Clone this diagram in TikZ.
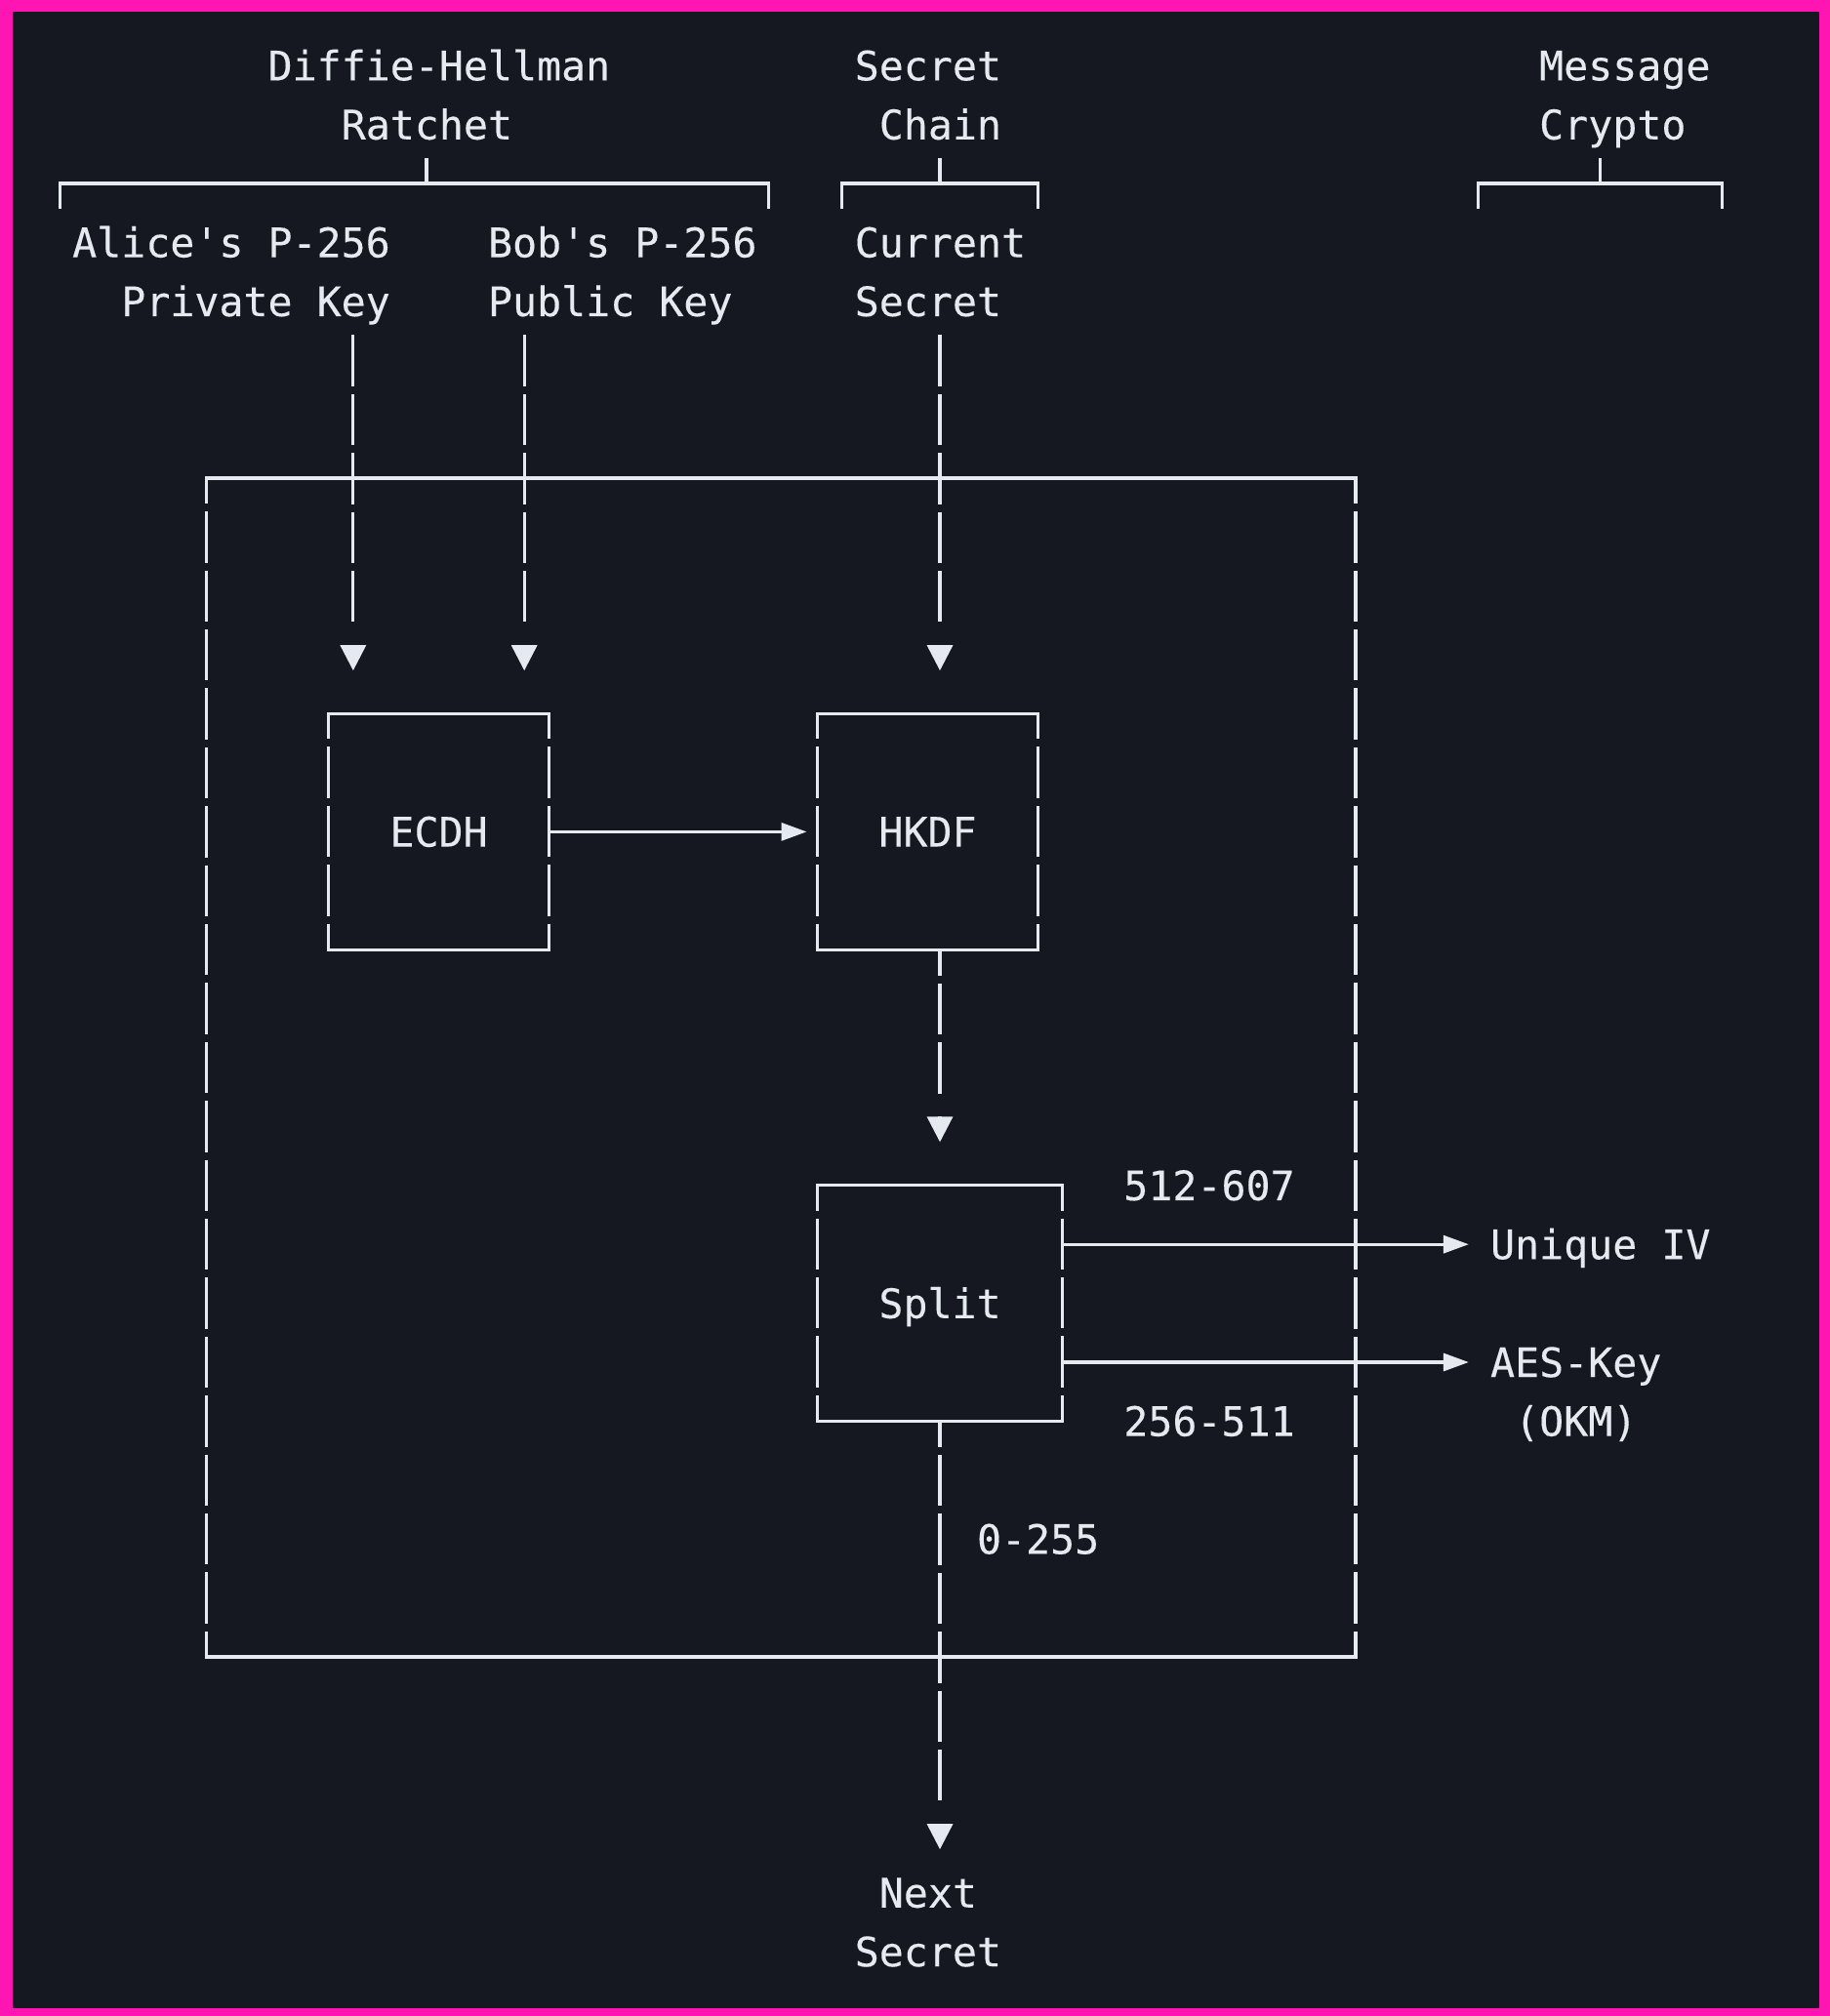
\documentclass[tikz,border=0pt]{standalone}
\usepackage{fontspec}
\usepackage{tikz}
\usetikzlibrary{arrows.meta}
\newfontfamily\termfont{DejaVu Sans Mono}[FakeBold=0.25]
\definecolor{termbg}{RGB}{21,24,32}
\definecolor{termfg}{RGB}{229,233,240}
\definecolor{marco}{RGB}{255,22,178}

\begin{document}
\begin{tikzpicture}[x=12.525pt, y=-30.2pt,
		txt/.style={font=\termfont\fontsize{20.8pt}{30.2pt}\selectfont, text=termfg,
			inner sep=0pt, text height=15.16pt, text depth=0pt, minimum height=30.2pt, anchor=west},
		block/.style={font=\termfont\fontsize{20.8pt}{30.2pt}\selectfont, text=termfg,
			inner sep=0pt, text height=15.16pt, text depth=0pt, minimum height=120.8pt, minimum width=#1},
		hline/.style={draw=termfg, line width=1.6pt, line cap=rect},
		pipe/.style={draw=termfg, line width=1.6pt, dash pattern=on 26.2pt off 4pt, dash phase=#1},
		pipe/.default=13.1pt,
		feed/.style={pipe=#1, -{Triangle[width=13pt,length=13pt]}},
		link/.style={hline, -{Triangle[width=9pt,length=13pt]}}]
			% Fondo y marco
			\fill[marco] (-3.445,-1.1126) rectangle (71.405,33.093);
			\fill[termbg] (-2.926,-0.914) rectangle (70.966,32.961);
			
			% Titulos de grupo
			\node[txt] (dh) at (7.5,0) {Diffie-Hellman};
			\node[txt] (ratchet) at (10.5,1) {Ratchet};
			\node[txt] (chain) at (31.5,0) {Secret};
			\node[txt] (chainB) at (32.5,1) {Chain};
			\node[txt] (msg) at (59.5,0) {Message};
			\node[txt] (msgB) at (59.5,1) {Crypto};
			
			% Corchetes
			\foreach \l/\m/\r in {-1/14/28, 31/35/39, 57/62/67} {
				\draw[hline] (\l,2) -- (\r,2);
				\draw[pipe] (\l,2) -- (\l,2.5) (\r,2) -- (\r,2.5);
				\draw[pipe=28.2pt] (\m,1.5) -- (\m,2);
			}
			
			% Entradas
			\node[txt] (alice) at (-0.5,3) {Alice\textquotesingle s P-256};
			\node[txt] (alicekey) at (1.5,4) {Private Key};
			\node[txt] (bob) at (16.5,3) {Bob\textquotesingle s P-256};
			\node[txt] (bobkey) at (16.5,4) {Public Key};
			\node[txt] (current) at (31.5,3) {Current};
			\node[txt] (cursecret) at (31.5,4) {Secret};
			
			% Caja exterior
			\draw[hline] (5,7) -- (52,7) (5,27) -- (52,27);
			\draw[pipe] (5,7) -- (5,27) (52,7) -- (52,27);
			
			% Bloques
			\node[block=9*12.525pt] (ecdh) at (14.5,13) {ECDH};
			\node[block=9*12.525pt] (hkdf) at (34.5,13) {HKDF};
			\node[block=10*12.525pt] (split) at (35,21) {Split};
			\foreach \b in {ecdh,hkdf,split} {
				\draw[hline] (\b.north west) -- (\b.north east) (\b.south west) -- (\b.south east);
				\draw[pipe] (\b.north west) -- (\b.south west) (\b.north east) -- (\b.south east);
			}
			
			% Salidas y rangos
			\node[txt] (ivrange) at (42.5,19) {512-607};
			\node[txt] (iv) at (57.5,20) {Unique IV};
			\node[txt] (aes) at (57.5,22) {AES-Key};
			\node[txt] (okm) at (58.5,23) {(OKM)};
			\node[txt] (keyrange) at (42.5,23) {256-511};
			\node[txt] (nextrange) at (36.5,25) {0-255};
			\node[txt] (next) at (32.5,31) {Next};
			\node[txt] (nextsecret) at (31.5,32) {Secret};
			
			% Puntas
			\coordinate (tipA) at (11,10);
			\coordinate (tipB) at (18,10);
			\coordinate (tipC) at (35,10);
			\coordinate (tipD) at (35,18);
			\coordinate (tipE) at (35,30);
			
			% Conexiones verticales
			\foreach \from/\tip/\ph in {alicekey/tipA/28.2pt, bobkey/tipB/28.2pt, cursecret/tipC/28.2pt, hkdf/tipD/13.1pt, split/tipE/13.1pt}
				\draw[feed=\ph] (\from.south -| \tip) -- ([yshift=15.1pt]\tip) ([yshift=5pt]\tip) -- ([yshift=-8pt]\tip);
			
			% Conexiones horizontales
			\draw[link, shorten >=5.4pt] (ecdh) -- (hkdf);
			\draw[link, shorten >=10.9pt] (split.east |- iv) -- (iv.west);
			\draw[link, shorten >=10.9pt] (split.east |- aes) -- (aes.west);
		\end{tikzpicture}
\end{document}
